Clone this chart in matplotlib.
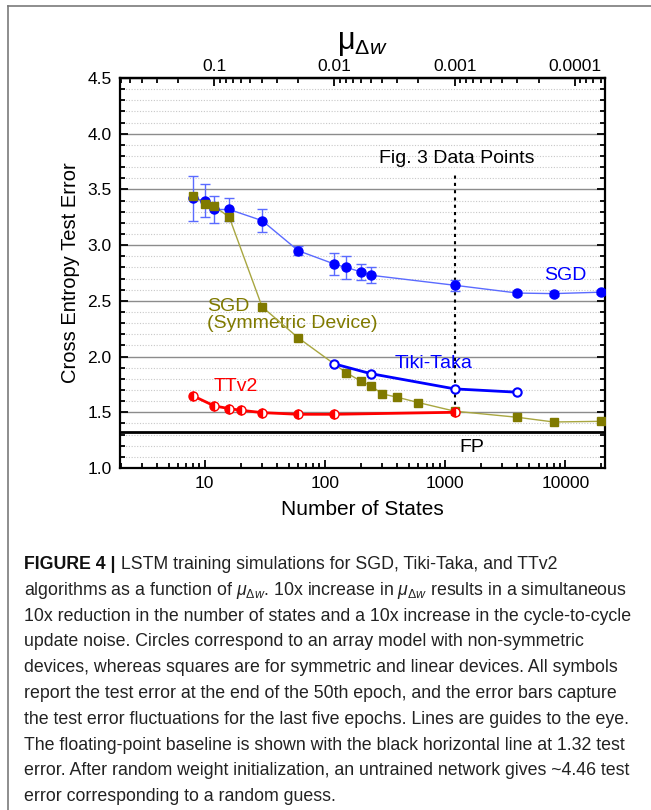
import matplotlib
matplotlib.use('Agg')
import matplotlib.pyplot as plt
from matplotlib.ticker import FixedLocator, FuncFormatter, MultipleLocator, LogLocator, NullFormatter
from matplotlib.lines import Line2D

plt.rcParams['font.family'] = ['Liberation Sans', 'DejaVu Sans']
plt.rcParams['mathtext.fontset'] = 'custom'
plt.rcParams['mathtext.rm'] = 'Liberation Sans'
plt.rcParams['mathtext.it'] = 'Liberation Sans:italic'

# SGD, non-symmetric device (filled circles + error bars)
sgd_n = [8, 10, 12, 16, 30, 60, 120, 150, 200, 240, 1200, 4000, 8000, 20000]
sgd_err = [3.42, 3.40, 3.32, 3.32, 3.22, 2.95, 2.83, 2.80, 2.76, 2.73, 2.64, 2.57, 2.565, 2.578]
sgd_bar = [0.20, 0.15, 0.12, 0.10, 0.10, 0.04, 0.10, 0.10, 0.07, 0.07, 0.05, 0.02, 0.02, 0.02]

# SGD, symmetric device (squares)
sym_n = [8, 10, 12, 16, 30, 60, 150, 200, 240, 300, 400, 600, 1200, 4000, 8000, 20000]
sym_err = [3.445, 3.37, 3.35, 3.25, 2.446, 2.168, 1.856, 1.778, 1.74, 1.665, 1.635, 1.587,
           1.51, 1.455, 1.413, 1.419]

# Tiki-Taka (open circles)
tt_n = [120, 240, 1200, 4000]
tt_err = [1.934, 1.847, 1.71, 1.68]

# TTv2 (half filled circles)
ttv2_n = [8, 12, 16, 20, 30, 60, 120, 1200]
ttv2_err = [1.647, 1.557, 1.533, 1.518, 1.497, 1.482, 1.482, 1.50]

fp_level = 1.32
fig3_n = 1200

caption = [
    "algorithms as a function of $\\mu_{\\Delta w}$. 10x increase in $\\mu_{\\Delta w}$ results in a simultaneous",
    "10x reduction in the number of states and a 10x increase in the cycle-to-cycle",
    "update noise. Circles correspond to an array model with non-symmetric",
    "devices, whereas squares are for symmetric and linear devices. All symbols",
    "report the test error at the end of the 50th epoch, and the error bars capture",
    "the test error fluctuations for the last five epochs. Lines are guides to the eye.",
    "The floating-point baseline is shown with the black horizontal line at 1.32 test",
    "error. After random weight initialization, an untrained network gives ~4.46 test",
    "error corresponding to a random guess.",
]

W, H = 651, 810
fig = plt.figure(figsize=(W / 100, H / 100), dpi=100)
ax = fig.add_axes([120 / W, 1 - 468 / H, 485 / W, 390 / H])
ax.set_xscale('log')
ax.set_xlim(1.97, 21400)
ax.set_ylim(1.0, 4.5)

# grid
ax.yaxis.set_major_locator(MultipleLocator(0.5))
ax.yaxis.set_minor_locator(MultipleLocator(0.1))
ax.grid(axis='y', which='major', color='#8c8c8c', lw=1.0)
ax.grid(axis='y', which='minor', color='#c8c8c8', lw=0.8, ls=(0, (1, 1.5)))
ax.set_axisbelow(True)

blue = '#0000ff'
light_blue = '#5b6bff'
olive = '#807a00'
olive_line = '#a8a640'
red = '#ff0000'

ax.axhline(fp_level, color='black', lw=2.0, zorder=3)
ax.vlines(fig3_n, 1.5, 3.65, colors='black', lw=1.5, linestyles=(0, (1.5, 2)), zorder=3)

ax.plot(sym_n, sym_err, color=olive_line, lw=1.0, zorder=4)
ax.plot(sym_n, sym_err, ls='none', marker='s', ms=6, color=olive, mec=olive, zorder=6)

ax.errorbar(sgd_n, sgd_err, yerr=sgd_bar, fmt='none', ecolor=light_blue, elinewidth=1.0,
            capsize=3.5, capthick=1.0, zorder=4)
ax.plot(sgd_n, sgd_err, color=light_blue, lw=1.0, zorder=4)
ax.plot(sgd_n, sgd_err, ls='none', marker='o', ms=6.5, color=blue, zorder=5)

ax.plot(tt_n, tt_err, color=blue, lw=2.0, marker='o', ms=6, mfc='white', mec=blue, mew=1.5, zorder=7)

ax.plot(ttv2_n, ttv2_err, color=red, lw=2.0, zorder=7)
ax.plot(ttv2_n, ttv2_err, ls='none', marker='o', ms=6.5, color=red, mec=red, mew=1.0,
        fillstyle='left', markerfacecoloralt='white', zorder=8)

# annotations
ax.text(1250, 3.78, 'Fig. 3 Data Points', ha='center', va='center', fontsize=14)
ax.text(1320, 1.18, 'FP', ha='left', va='center', fontsize=14)
ax.text(10000, 2.73, 'SGD', ha='center', va='center', fontsize=14, color=blue)
ax.text(10.5, 2.37, 'SGD\n(Symmetric Device)', ha='left', va='center', fontsize=14,
        color=olive, linespacing=1.0)
ax.text(800, 1.94, 'Tiki-Taka', ha='center', va='center', fontsize=14, color=blue)
ax.text(18, 1.73, 'TTv2', ha='center', va='center', fontsize=14, color=red)

# axes formatting
for s in ax.spines.values():
    s.set_linewidth(1.6)
ax.xaxis.set_major_locator(LogLocator(base=10, numticks=10))
ax.xaxis.set_minor_locator(LogLocator(base=10, subs=range(2, 10), numticks=20))
ax.xaxis.set_minor_formatter(NullFormatter())
ax.xaxis.set_major_formatter(FuncFormatter(lambda v, p: '%d' % v))
ax.yaxis.set_major_formatter(FuncFormatter(lambda v, p: '%.1f' % v))
ax.tick_params(which='both', direction='in', top=False, right=True, labelsize=12.5, width=1.3)
ax.tick_params(which='major', length=6, pad=6)
ax.tick_params(which='minor', length=3.5)
ax.set_xlabel('Number of States', fontsize=15, labelpad=6)
ax.set_ylabel('Cross Entropy Test Error', fontsize=14.5, labelpad=5)

top = ax.secondary_xaxis('top', functions=(lambda n: 1.2 / n, lambda m: 1.2 / m))
top.xaxis.set_major_locator(FixedLocator([0.1, 0.01, 0.001, 0.0001]))
top.xaxis.set_minor_locator(LogLocator(base=10, subs=range(2, 10), numticks=20))
top.xaxis.set_minor_formatter(NullFormatter())
top.xaxis.set_major_formatter(FuncFormatter(lambda v, p: '%g' % v))
top.tick_params(which='both', direction='in', labelsize=12.5, width=1.3)
top.tick_params(which='major', length=6, pad=3)
top.tick_params(which='minor', length=3.5)
top.spines['top'].set_linewidth(1.6)
top.set_xlabel('μ$_{\\Delta w}$', fontsize=22, labelpad=7)

# frame lines (left and top)
fig.add_artist(Line2D([8 / W, 8 / W], [0, 1 - 6 / H], transform=fig.transFigure, color='#7a7a7a', lw=1.2))
fig.add_artist(Line2D([8 / W, 1], [1 - 6 / H, 1 - 6 / H], transform=fig.transFigure, color='#7a7a7a', lw=1.2))

# caption
cap_font = ['Liberation Sans', 'DejaVu Sans']
cap_size = 12.8
x0 = 24 / W
y0 = 569
step = 25.8
t1 = fig.text(x0, 1 - y0 / H, 'FIGURE 4 |', fontsize=cap_size, weight='bold', family=cap_font,
              va='baseline', color='#111111')
ax.annotate(' LSTM training simulations for SGD, Tiki-Taka, and TTv2', xy=(1, 0), xycoords=t1,
            va='bottom', ha='left', fontsize=cap_size, family=cap_font, color='#222222',
            annotation_clip=False)
for i, line in enumerate(caption):
    fig.text(x0, 1 - (y0 + (i + 1) * step) / H, line, fontsize=cap_size, family=cap_font,
             va='baseline', color='#222222')

fig.savefig('out.png', dpi=100)
